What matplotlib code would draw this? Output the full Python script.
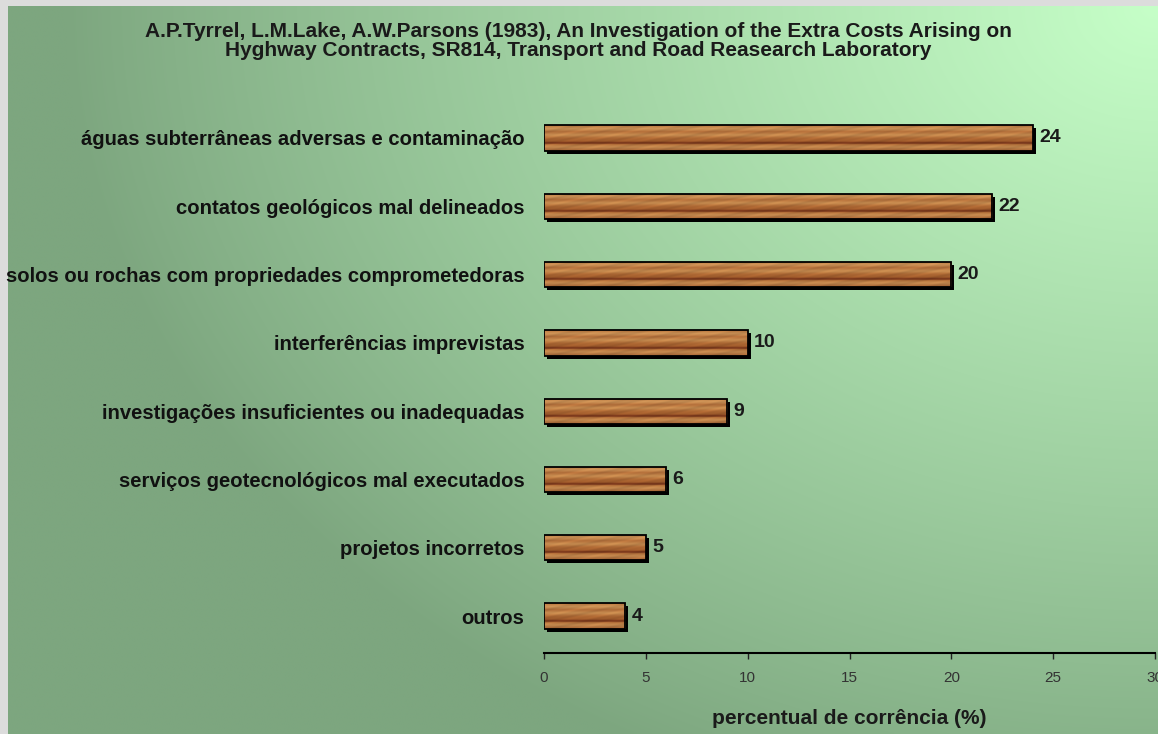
import numpy as np
import matplotlib
matplotlib.use('Agg')
import matplotlib.pyplot as plt
from matplotlib import transforms

categories = ['águas subterrâneas adversas e contaminação',
              'contatos geológicos mal delineados',
              'solos ou rochas com propriedades comprometedoras',
              'interferências imprevistas',
              'investigações insuficientes ou inadequadas',
              'serviços geotecnológicos mal executados',
              'projetos incorretos',
              'outros']
values = [24, 22, 20, 10, 9, 6, 5, 4]
xticks = [0, 5, 10, 15, 20, 25, 30]

title = ('A.P.Tyrrel, L.M.Lake, A.W.Parsons (1983), An Investigation of the Extra Costs Arising on\n'
         'Hyghway Contracts, SR814, Transport and Road Reasearch Laboratory')
xlabel = 'percentual de corrência (%)'

SANS = ['Liberation Sans', 'DejaVu Sans']

W, H = 1158, 734
fig = plt.figure(figsize=(W / 100, H / 100), dpi=100)
fig.patch.set_facecolor('#dcdcdc')

# green gradient background, light towards the top right corner
bg = fig.add_axes([8 / W, 0, 1 - 8 / W, 1 - 6 / H])
bg.axis('off')
yy, xx = np.mgrid[0:1:300j, 0:1:400j]
d = np.sqrt(((1 - xx) / 0.95) ** 2 + (yy / 1.15) ** 2)
f = np.clip(1 - d, 0, 1) ** 0.9
dark = np.array([125, 166, 127]) / 255
light = np.array([198, 255, 200]) / 255
bg.imshow(dark + (light - dark) * f[..., None], aspect='auto',
          extent=(0, 1, 0, 1), origin='upper', interpolation='bilinear')

ax = fig.add_axes([544 / W, 1 - 653 / H, (1155 - 544) / W, (653 - 97) / H])
ax.patch.set_visible(False)

pos = np.arange(len(values))[::-1]
h = 0.37

# wood texture (vertical colour profile with a little grain along x)
stops = [0.0, 0.12, 0.25, 0.38, 0.5, 0.62, 0.7, 0.76, 0.85, 1.0]
cols = np.array([[178, 112, 58], [204, 148, 88], [176, 108, 56], [198, 140, 80],
                 [172, 104, 52], [160, 92, 44], [108, 44, 22], [178, 112, 58],
                 [196, 138, 80], [160, 96, 50]]) / 255


def wood(v):
    rows = 30
    ncol = max(int(v * 12), 10)
    t = np.linspace(0, 1, rows)
    prof = np.stack([np.interp(t, stops, cols[:, k]) for k in range(3)], axis=1)
    x = np.linspace(0, v, ncol)
    grain = 1 + 0.05 * np.sin(x[None, :] * 2.3 + t[:, None] * 17) \
        + 0.03 * np.sin(x[None, :] * 7.1 + t[:, None] * 40)
    return np.clip(prof[:, None, :] * grain[..., None], 0, 1)


shadow = transforms.offset_copy(ax.transData, fig=fig, x=3, y=-3, units='dots')
ax.barh(pos, values, height=h, color='black', transform=shadow, zorder=2)
bars = ax.barh(pos, values, height=h, color='#b07040', zorder=3)
for bar, p, v in zip(bars, pos, values):
    im = ax.imshow(wood(v), extent=(0, v, p - h / 2, p + h / 2), origin='upper',
                   aspect='auto', interpolation='bilinear', zorder=4)
    im.set_clip_path(bar)
    ax.text(v + 0.3, p, str(v), va='center', ha='left', fontsize=14,
            fontweight='bold', family=SANS, color='#1a1a1a', zorder=6)
ax.barh(pos, values, height=h, fill=False, edgecolor='black', linewidth=1.3, zorder=5)

ax.set_xlim(0, 30)
ax.set_ylim(-0.54, 7.6)
ax.set_xticks(xticks)
ax.set_xticklabels([str(t) for t in xticks], family=SANS, fontsize=11, color='#333333')
ax.set_yticks(pos)
ax.set_yticklabels(categories, family=SANS, fontsize=14.6, fontweight='bold',
                   color='#111111')
ax.tick_params(axis='y', length=0, pad=14)
ax.tick_params(axis='x', length=4, width=1, pad=9, direction='out', color='#222222')
for s in ['top', 'right', 'left']:
    ax.spines[s].set_visible(False)
ax.spines['bottom'].set_linewidth(1.5)

fig.text(578 / W, 1 - 41 / H, title, ha='center', va='center', fontsize=15,
         fontweight='bold', family=SANS, color='#1a1a1a', linespacing=1.0)
fig.text(849 / W, 1 - 718 / H, xlabel, ha='center', va='center', fontsize=15,
         fontweight='bold', family=SANS, color='#1a1a1a')

fig.savefig('out.png', dpi=100, facecolor=fig.get_facecolor())
